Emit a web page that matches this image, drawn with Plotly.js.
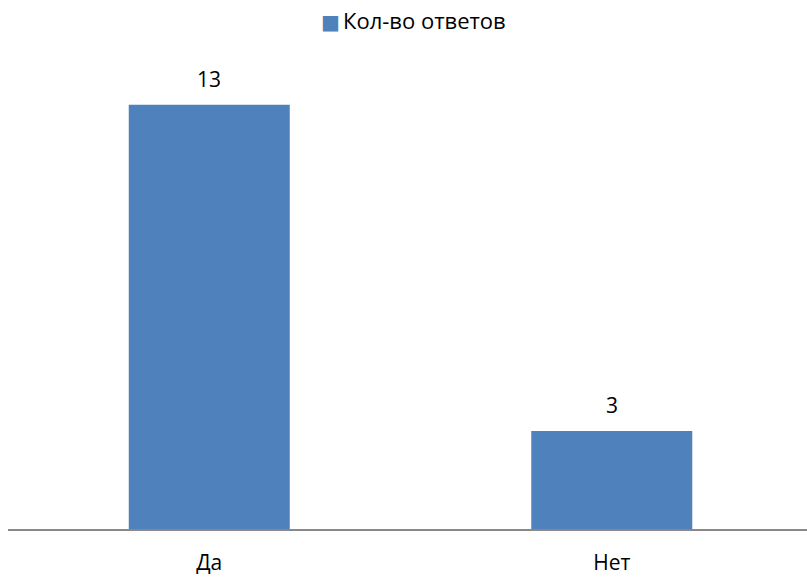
<!DOCTYPE html>
<html>
<head>
<meta charset="utf-8">
<script src="https://cdn.plot.ly/plotly-3.0.1.min.js"></script>
<style>html,body{margin:0;padding:0;background:#fff;}#chart{width:807px;height:577px;}</style>
</head>
<body>
<div id="chart"></div>
<script>
const categories = ["Да", "Нет"];
const answers = [13, 3];
const seriesName = "Кол-во ответов";
const barColor = "#4F81BD";

const FONT = "'Open Sans', 'Noto Sans', sans-serif";
const FS = 21;

const trace = {
  type: "bar",
  x: categories,
  y: answers,
  name: seriesName,
  marker: {color: barColor},
  showlegend: false,
  hoverinfo: "none"
};

const annotations = categories.map((c, i) => ({
  x: c, y: answers[i], xref: "x", yref: "y",
  text: String(answers[i]), showarrow: false,
  yanchor: "bottom", yshift: 10,
  font: {family: FONT, size: FS, color: "#000"}
}));

// legend entry (square marker + series name)
annotations.push({
  xref: "paper", yref: "paper", x: 0.5081, y: 1, yshift: 52,
  xanchor: "center", yanchor: "middle", showarrow: false,
  text: '<span style="color:' + barColor + ';font-family:DejaVu Sans;font-size:20px">■</span><span style="font-size:12px"> </span>' + seriesName,
  font: {family: FONT, size: 22, color: "#000"}
});

const layout = {
  width: 807, height: 577,
  margin: {l: 8, r: 0, t: 72, b: 48},
  paper_bgcolor: "#fff", plot_bgcolor: "#fff",
  font: {family: FONT, size: FS, color: "#000"},
  bargap: 0.6,
  showlegend: false,
  xaxis: {
    type: "category", range: [-0.5, 1.485],
    showline: true, linecolor: "#898989", linewidth: 2,
    showgrid: false, zeroline: false,
    ticks: "outside", ticklen: 14, tickcolor: "rgba(0,0,0,0)",
    tickfont: {family: FONT, size: FS, color: "#000"}
  },
  yaxis: {
    range: [0, 14], visible: false, showgrid: false, zeroline: false
  },
  annotations: annotations
};

Plotly.newPlot("chart", [trace], layout, {displayModeBar: false, staticPlot: true});
</script>
</body>
</html>
